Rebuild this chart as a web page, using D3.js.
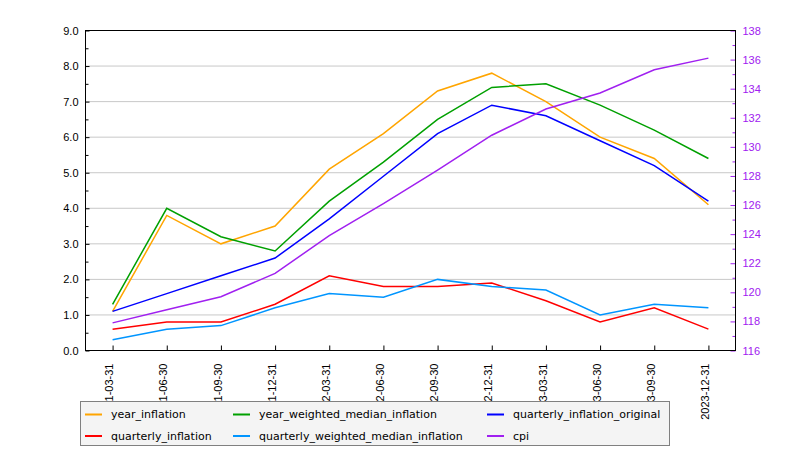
<!DOCTYPE html>
<html><head><meta charset="utf-8">
<script src="https://cdn.jsdelivr.net/npm/d3@7"></script>
<style>
body{margin:0;background:#fff;}
svg{display:block;font-family:"DejaVu Sans",sans-serif;}
</style></head>
<body><svg id="c" width="800" height="450"></svg>
<script>
const dates = ["2021-03-31","2021-06-30","2021-09-30","2021-12-31","2022-03-31","2022-06-30","2022-09-30","2022-12-31","2023-03-31","2023-06-30","2023-09-30","2023-12-31"];
const year_inflation = [1.1,3.8,3.0,3.5,5.1,6.1,7.3,7.8,7.0,6.0,5.4,4.1];
const year_weighted_median_inflation = [1.3,4.0,3.2,2.8,4.2,5.3,6.5,7.4,7.5,6.9,6.2,5.4];
const quarterly_inflation_original = [1.1,1.6,2.1,2.6,3.7,4.9,6.1,6.9,6.6,5.9,5.2,4.2];
const quarterly_inflation = [0.6,0.8,0.8,1.3,2.1,1.8,1.8,1.9,1.4,0.8,1.2,0.6];
const quarterly_weighted_median_inflation = [0.3,0.6,0.7,1.2,1.6,1.5,2.0,1.8,1.7,1.0,1.3,1.2];
const cpi = [117.9,118.8,119.7,121.3,123.9,126.1,128.4,130.8,132.6,133.7,135.3,136.1];
const leftTicks = [0,1,2,3,4,5,6,7,8,9];
const rightTicks = [116,118,120,122,124,126,128,130,132,134,136,138];

const series = [
  {name:"year_inflation", values:year_inflation, color:"#ffa500", axis:"left"},
  {name:"year_weighted_median_inflation", values:year_weighted_median_inflation, color:"#00a000", axis:"left"},
  {name:"quarterly_inflation_original", values:quarterly_inflation_original, color:"#0000ff", axis:"left"},
  {name:"quarterly_inflation", values:quarterly_inflation, color:"#ff0000", axis:"left"},
  {name:"quarterly_weighted_median_inflation", values:quarterly_weighted_median_inflation, color:"#0095ff", axis:"left"},
  {name:"cpi", values:cpi, color:"#a020f0", axis:"right"}
];

const L=85.5, R=735.5, T=30.5, B=350.5;
const svg = d3.select("#c");
const x = d3.scalePoint().domain(dates).range([L,R]).padding(0.5);
const yL = d3.scaleLinear().domain([0,9]).range([B,T]);
const yR = d3.scaleLinear().domain([116,138]).range([B,T]);

// grid
svg.append("g").selectAll("line").data(leftTicks.slice(1,-1)).join("line")
  .attr("x1",L).attr("x2",R).attr("y1",d=>yL(d)).attr("y2",d=>yL(d))
  .attr("stroke","#c8c8c8").attr("stroke-width",1);

// lines
const g = svg.append("g");
series.forEach(s=>{
  const ys = s.axis==="left"?yL:yR;
  const line = d3.line().x((d,i)=>x(dates[i])).y(d=>ys(d));
  g.append("path").datum(s.values).attr("d",line).attr("fill","none")
    .attr("stroke",s.color).attr("stroke-width",1.5);
});

// axes
const fs = "11px";
const ax = svg.append("g").attr("transform",`translate(0,${B})`)
  .call(d3.axisBottom(x).tickSize(-5).tickSizeOuter(0).tickPadding(6));
ax.select(".domain").remove();
ax.selectAll("text").attr("transform","rotate(-90)").attr("text-anchor","end")
  .attr("dx","-0.55em").attr("dy","-0.35em").attr("x",0).attr("y",0)
  .style("font-size",fs).attr("fill","#000")
  .attr("transform", "rotate(-90)").each(function(){
    d3.select(this).attr("x",-7).attr("y",4);
  });

const axl = svg.append("g").attr("transform",`translate(${L},0)`)
  .call(d3.axisLeft(yL).tickValues(leftTicks).tickFormat(d3.format(".1f")).tickSize(-4).tickSizeOuter(0).tickPadding(7));
axl.select(".domain").remove();
axl.selectAll("text").style("font-size",fs).attr("fill","#000");
svg.append("g").attr("transform",`translate(${L},0)`)
  .call(d3.axisLeft(yL).tickValues(d3.range(0.5,9,1)).tickFormat("").tickSize(-3).tickSizeOuter(0))
  .select(".domain").remove();

const axr = svg.append("g").attr("transform",`translate(${R},0)`)
  .call(d3.axisRight(yR).tickValues(rightTicks).tickSize(-5).tickSizeOuter(0).tickPadding(7));
axr.select(".domain").remove();
axr.selectAll("line").attr("stroke","#a020f0");
axr.selectAll("text").style("font-size",fs).attr("fill","#a020f0");
const axr2 = svg.append("g").attr("transform",`translate(${R},0)`)
  .call(d3.axisRight(yR).tickValues(d3.range(117,138,2)).tickFormat("").tickSize(-3).tickSizeOuter(0));
axr2.select(".domain").remove();
axr2.selectAll("line").attr("stroke","#a020f0");

// frame
svg.append("rect").attr("x",L).attr("y",T).attr("width",R-L).attr("height",B-T)
  .attr("fill","none").attr("stroke","#000").attr("stroke-width",1);

// legend
const lg = svg.append("g");
lg.append("rect").attr("x",80.5).attr("y",401.5).attr("width",589).attr("height",44)
  .attr("fill","#f4f4f4").attr("stroke","#808080");
const colX = [85,233,487];
const rowY = [414.5,436];
series.forEach((s,i)=>{
  const cx = colX[i%3], cy = rowY[Math.floor(i/3)];
  lg.append("line").attr("x1",cx).attr("x2",cx+17).attr("y1",cy).attr("y2",cy)
    .attr("stroke",s.color).attr("stroke-width",2);
  lg.append("text").attr("x",cx+26).attr("y",cy).attr("dy","0.35em")
    .style("font-size",fs).attr("fill","#000").text(s.name);
});
</script></body></html>
